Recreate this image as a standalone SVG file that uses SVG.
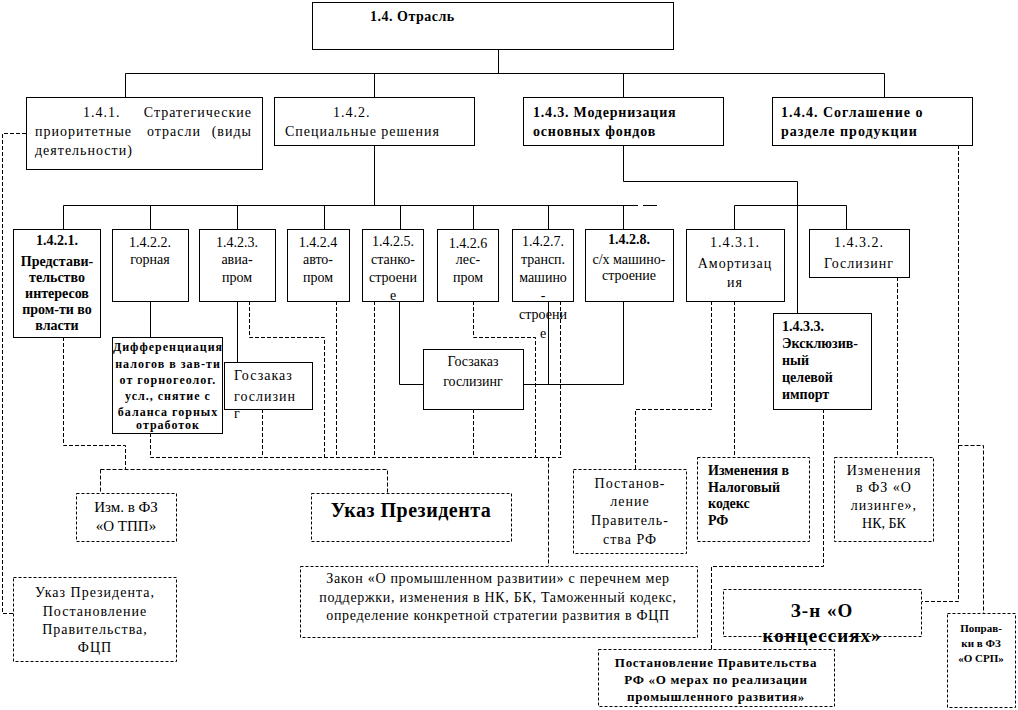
<svg xmlns="http://www.w3.org/2000/svg" width="1018" height="710" viewBox="0 0 1018 710">
<style>
.box{fill:#fff;stroke:#000;stroke-width:1}
.dbox{fill:#fff;stroke:#000;stroke-width:1;stroke-dasharray:3,2}
.ln{stroke:#000;stroke-width:1;fill:none}
.dl{stroke:#000;stroke-width:1;fill:none;stroke-dasharray:4,2}
text{font-family:"Liberation Serif","Times New Roman",serif;font-size:14px;fill:#000}
.b{font-weight:bold}
.c{text-anchor:middle}
.s{letter-spacing:1px}
.diff{font-size:12px;font-weight:bold;letter-spacing:1px;text-anchor:middle}
.mer{font-size:13px;font-weight:bold;letter-spacing:0.7px;text-anchor:middle}
.srp{font-size:11px;font-weight:bold;text-anchor:middle}
</style>
<rect x="0" y="0" width="1018" height="710" fill="#fff"/>
<g id="connectors">
<path class="ln" d="M498.5,49 V73.5 M125.5,73.5 H884.5 M125.5,73.5 V97 M374.5,73.5 V97 M623.5,73.5 V97 M884.5,73.5 V97"/>
<path class="ln" d="M374.5,145 V205.5 M63.5,205.5 H638 M643,205.5 H657 M63.5,205.5 V229 M150.5,205.5 V229 M237.5,205.5 V229 M324.5,205.5 V229 M400.5,205.5 V229 M473.5,205.5 V229 M548.5,205.5 V229 M623.5,205.5 V229"/>
<path class="ln" d="M623.5,145 V181.5 H797.5 V313 M734.5,205.5 H846.5 M734.5,205.5 V229 M846.5,205.5 V229"/>
<path class="ln" d="M150.5,301 V337 M237.5,301 V362 M399.5,301 V384.5 H423 M523,384.5 H623.5 V301 M548.5,301 V384.5"/>
<path class="dl" d="M26,133.5 H2.5 V613.5 H13"/>
<path class="dl" d="M63.5,337 V445.5 H125.5 V469.5 M100.5,469.5 H387.5 V493 M100.5,469.5 V493"/>
<path class="dl" d="M150.5,433 V457.5 H561.5 M262.5,409 V457.5 M249.5,301 V337.5 H324.5 V457.5 M336.5,301 V457.5 M374.5,301 V457.5 M473.5,409 V457.5 M473.5,301 V337.5 H535.5 V457.5 M560.5,301 V457.5 M548.5,457.5 V566"/>
<path class="dl" d="M711.5,301 V409.5 H635.5 V469 M734.5,301 V457"/>
<path class="dl" d="M823.5,409 V566.5 H711.5 V649 M897.5,277 V457"/>
<path class="dl" d="M958.5,145 V601.5 H922 M958.5,445.5 H983.5 V613"/>
</g>
<g id="n14"><rect class="box" x="312.5" y="2.5" width="361" height="47"/><text class="b" x="370" y="21" style="letter-spacing:0.5px">1.4. Отрасль</text></g>
<g id="n141"><rect class="box" x="26.5" y="97.5" width="236" height="72"/>
<text x="83" y="117" class="s">1.4.1.</text><text x="252" y="117" class="s" text-anchor="end">Стратегические</text>
<text x="35" y="136" class="s">приоритетные</text><text x="147" y="136" class="s">отрасли</text><text x="252" y="136" class="s" text-anchor="end">(виды</text>
<text x="35" y="155" class="s">деятельности)</text></g>
<g id="n142"><rect class="box" x="274.5" y="97.5" width="200" height="48"/><text x="333" y="117" class="s">1.4.2.</text><text x="285" y="136" class="s">Специальные решения</text></g>
<g id="n143"><rect class="box" x="523.5" y="97.5" width="200" height="48"/><text class="b" x="533" y="117" style="letter-spacing:0.8px">1.4.3. Модернизация</text><text class="b" x="533" y="136" style="letter-spacing:0.8px">основных фондов</text></g>
<g id="n144"><rect class="box" x="772.5" y="97.5" width="200" height="48"/><text class="b" x="781" y="117" style="letter-spacing:1px">1.4.4. Соглашение о</text><text class="b" x="781" y="136" style="letter-spacing:1px">разделе продукции</text></g>
<g id="n1421"><rect class="box" x="13.5" y="229.5" width="87" height="108"/>
<text class="b c" x="57" y="245">1.4.2.1.</text><text class="b c" x="57" y="266">Представи-</text><text class="b c" x="57" y="282">тельство</text><text class="b c" x="57" y="298">интересов</text><text class="b c" x="57" y="314">пром-ти во</text><text class="b c" x="57" y="330">власти</text></g>
<g id="n1422"><rect class="box" x="112.5" y="229.5" width="76" height="72"/><text class="c" x="150" y="247">1.4.2.2.</text><text class="c" x="150" y="264">горная</text></g>
<g id="n1423"><rect class="box" x="199.5" y="229.5" width="76" height="72"/><text class="c" x="237" y="247">1.4.2.3.</text><text class="c" x="237" y="264">авиа-</text><text class="c" x="237" y="282">пром</text></g>
<g id="n1424"><rect class="box" x="287.5" y="229.5" width="62" height="72"/><text class="c" x="318" y="247">1.4.2.4</text><text class="c" x="318" y="264">авто-</text><text class="c" x="318" y="282">пром</text></g>
<g id="n1425"><rect class="box" x="362.5" y="229.5" width="61" height="72"/><text class="c" x="393" y="246">1.4.2.5.</text><text class="c" x="393" y="264">станко-</text><text class="c" x="393" y="282">строени</text><text class="c" x="393" y="300">е</text></g>
<g id="n1426"><rect class="box" x="437.5" y="229.5" width="61" height="72"/><text class="c" x="468" y="248">1.4.2.6</text><text class="c" x="468" y="264">лес-</text><text class="c" x="468" y="282">пром</text></g>
<g id="n1427"><rect class="box" x="512.5" y="229.5" width="61" height="72"/><text class="c" x="543" y="246">1.4.2.7.</text><text class="c" x="543" y="264">трансп.</text><text class="c" x="543" y="282">машино</text><text class="c" x="543" y="300">-</text><text class="c" x="543" y="319">строени</text><text class="c" x="543" y="338">е</text></g>
<g id="n1428"><rect class="box" x="585.5" y="229.5" width="88" height="72"/><text class="b c" x="629" y="244">1.4.2.8.</text><text class="c" x="629" y="264">с/х машино-</text><text class="c" x="629" y="280">строение</text></g>
<g id="n1431"><rect class="box" x="686.5" y="229.5" width="98" height="72"/><text class="c s" x="735" y="247">1.4.3.1.</text><text class="c s" x="735" y="268">Амортизац</text><text class="c s" x="735" y="287">ия</text></g>
<g id="n1432"><rect class="box" x="809.5" y="229.5" width="100" height="48"/><text class="c s" x="859" y="247">1.4.3.2.</text><text class="c s" x="859" y="268">Гослизинг</text></g>
<g id="n1433"><rect class="box" x="773.5" y="313.5" width="98" height="96"/><text class="b" x="782" y="331">1.4.3.3.</text><text class="b" x="782" y="348">Эксклюзив-</text><text class="b" x="782" y="365">ный</text><text class="b" x="782" y="382">целевой</text><text class="b" x="782" y="399">импорт</text></g>
<g id="ndiff"><rect class="box" x="112.5" y="337.5" width="110" height="96"/>
<text class="diff" x="168" y="351">Дифференциация</text><text class="diff" x="168" y="368">налогов в зав-ти</text><text class="diff" x="168" y="384">от горногеолог.</text><text class="diff" x="168" y="400">усл., снятие с</text><text class="diff" x="168" y="416">баланса горных</text><text class="diff" x="168" y="429">отработок</text></g>
<g id="ngz1"><rect class="box" x="224.5" y="362.5" width="88" height="47"/><text class="s" x="234" y="380">Госзаказ</text><text class="s" x="234" y="401">гослизин</text><text x="234" y="418">г</text></g>
<g id="ngz2"><rect class="box" x="423.5" y="349.5" width="100" height="60"/><text class="c" x="473" y="366">Госзаказ</text><text class="c" x="473" y="386">гослизинг</text></g>
<g id="ntpp"><rect class="dbox" x="76.5" y="493.5" width="100" height="48"/><text class="c" x="126" y="512" style="font-size:15px">Изм. в ФЗ</text><text class="c" x="126" y="531" style="font-size:15px">«О ТПП»</text></g>
<g id="nukaz"><rect class="dbox" x="311.5" y="493.5" width="200" height="48"/><text class="b c" x="411" y="517" style="font-size:20px;letter-spacing:0.5px">Указ Президента</text></g>
<g id="nukaz2"><rect class="dbox" x="13.5" y="577.5" width="163" height="84"/><text class="c s" x="95" y="597">Указ Президента,</text><text class="c s" x="95" y="616">Постановление</text><text class="c s" x="95" y="634">Правительства,</text><text class="c s" x="95" y="652">ФЦП</text></g>
<g id="nzakon"><rect class="dbox" x="300.5" y="566.5" width="397" height="71"/><text class="c" x="498" y="583" style="letter-spacing:0.7px">Закон «О промышленном развитии»  с перечнем мер</text><text class="c" x="498" y="602" style="letter-spacing:0.7px">поддержки, изменения в НК, БК, Таможенный кодекс,</text><text class="c" x="498" y="620" style="letter-spacing:0.7px">определение конкретной стратегии развития в ФЦП</text></g>
<g id="npost"><rect class="dbox" x="573.5" y="469.5" width="113" height="84"/><text class="c s" x="630" y="488">Постанов-</text><text class="c s" x="630" y="506">ление</text><text class="c s" x="630" y="525">Правитель-</text><text class="c s" x="630" y="544">ства РФ</text></g>
<g id="nnk"><rect class="dbox" x="697.5" y="457.5" width="112" height="84"/><text class="b" x="708" y="475">Изменения в</text><text class="b" x="708" y="492">Налоговый</text><text class="b" x="708" y="508">кодекс</text><text class="b" x="708" y="525">РФ</text></g>
<g id="nliz"><rect class="dbox" x="834.5" y="457.5" width="99" height="84"/><text class="c s" x="884" y="475">Изменения</text><text class="c s" x="884" y="492">в  ФЗ «О</text><text class="c s" x="884" y="510">лизинге»,</text><text class="c" x="884" y="528">НК, БК</text></g>
<g id="nkonc"><rect class="dbox" x="723.5" y="589.5" width="198" height="47"/><text class="b c" x="822" y="617" style="font-size:19px;letter-spacing:1px">З-н «О</text><text class="b c" x="822" y="642" style="font-size:19px;letter-spacing:1px">концессиях»</text></g>
<g id="nmer"><rect class="dbox" x="598.5" y="649.5" width="236" height="57"/><text class="mer" x="716" y="667">Постановление Правительства</text><text class="mer" x="716" y="684">РФ «О мерах по реализации</text><text class="mer" x="716" y="701">промышленного развития»</text></g>
<g id="nsrp"><rect class="dbox" x="947.5" y="613.5" width="68" height="94"/><text class="srp" x="981" y="632">Поправ-</text><text class="srp" x="981" y="647">ки в ФЗ</text><text class="srp" x="981" y="662">«О СРП»</text></g>
</svg>
